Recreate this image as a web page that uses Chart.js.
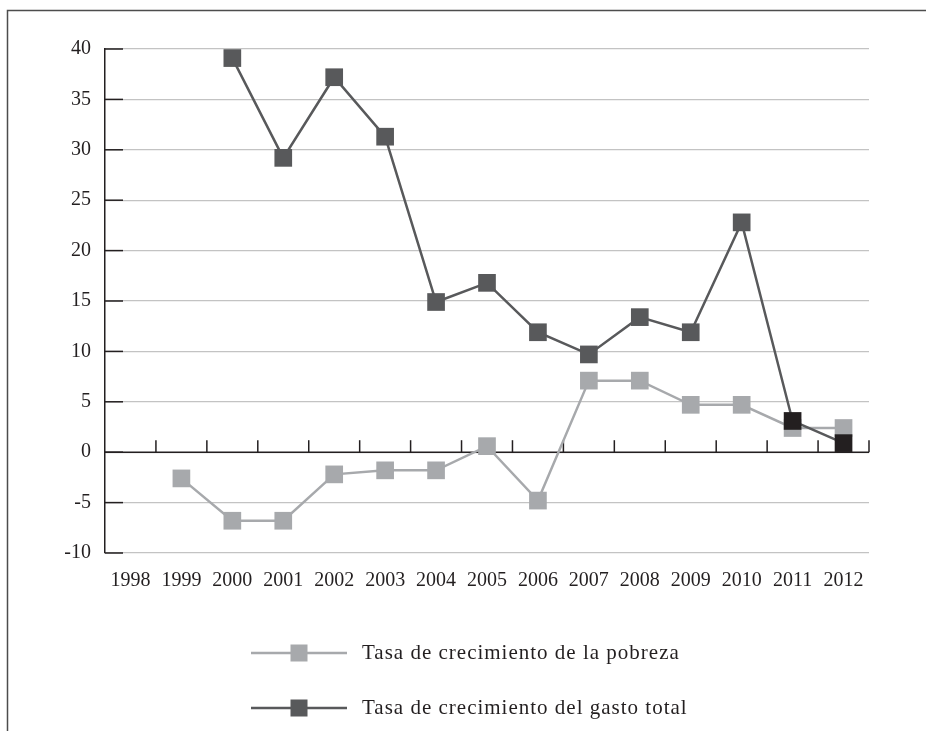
<!DOCTYPE html>
<html>
<head>
<meta charset="utf-8">
<script src="https://cdn.jsdelivr.net/npm/chart.js@4.4.0/dist/chart.umd.min.js"></script>
<style>
  html, body { margin: 0; padding: 0; background: #fff; }
</style>
</head>
<body>
<canvas id="chart" width="926" height="731"></canvas>
<script>
// Data
const years = ['1998', '1999', '2000', '2001', '2002', '2003', '2004', '2005',
               '2006', '2007', '2008', '2009', '2010', '2011', '2012'];
const povertyGrowth = [null, -2.6, -6.8, -6.8, -2.2, -1.8, -1.8, 0.6, -4.8, 7.1, 7.1, 4.7, 4.7, 2.4, 2.4];
const spendingGrowth = [null, null, 39.1, 29.2, 37.2, 31.3, 14.9, 16.8, 11.9, 9.7, 13.4, 11.9, 22.8, 3.1, 0.9];
const yTicks = [-10, -5, 0, 5, 10, 15, 20, 25, 30, 35, 40];
const seriesNames = ['Tasa de crecimiento de la pobreza', 'Tasa de crecimiento del gasto total'];

const LIGHT = '#a7a9ac';
const DARK = '#58595b';
const BLACK = '#231f20';
const FONT = '"Liberation Serif", "DejaVu Serif", serif';

// last two spending markers are printed in black
const spendingMarkers = spendingGrowth.map((v, i) => i >= 13 ? BLACK : DARK);

// Frame around the figure (left + top)
const framePlugin = {
  id: 'frame',
  beforeDraw(chart) {
    const ctx = chart.ctx;
    ctx.save();
    ctx.strokeStyle = '#4d4d4d';
    ctx.lineWidth = 1.5;
    ctx.beginPath();
    ctx.moveTo(7.5, chart.height);
    ctx.lineTo(7.5, 10.5);
    ctx.lineTo(chart.width, 10.5);
    ctx.stroke();
    ctx.restore();
  }
};

// Zero line with category ticks, and inward y ticks
const axisPlugin = {
  id: 'zeroAxis',
  beforeDatasetsDraw(chart) {
    const ctx = chart.ctx;
    const area = chart.chartArea;
    const x = chart.scales.x;
    const y = chart.scales.y;
    const y0 = y.getPixelForValue(0);
    const half = (x.getPixelForValue(1) - x.getPixelForValue(0)) / 2;

    ctx.save();
    ctx.strokeStyle = BLACK;
    ctx.lineWidth = 1.5;

    // inward y tick marks
    y.ticks.forEach(t => {
      const py = y.getPixelForValue(t.value);
      ctx.beginPath();
      ctx.moveTo(area.left, py);
      ctx.lineTo(area.left + 18, py);
      ctx.stroke();
    });

    // x axis at zero
    ctx.beginPath();
    ctx.moveTo(area.left, y0);
    ctx.lineTo(area.right, y0);
    ctx.stroke();

    for (let i = 0; i < years.length; i++) {
      const px = x.getPixelForValue(i) + half;
      ctx.beginPath();
      ctx.moveTo(px, y0);
      ctx.lineTo(px, y0 - 12);
      ctx.stroke();
    }
    ctx.restore();
  }
};

// Legend: line with a square marker, then the label
const legendPlugin = {
  id: 'lineLegend',
  afterDraw(chart) {
    const ctx = chart.ctx;
    const rows = [
      { label: seriesNames[0], line: LIGHT, marker: LIGHT, y: 653 },
      { label: seriesNames[1], line: DARK, marker: DARK, y: 708 }
    ];
    ctx.save();
    rows.forEach(r => {
      ctx.strokeStyle = r.line;
      ctx.lineWidth = 2.5;
      ctx.beginPath();
      ctx.moveTo(251, r.y);
      ctx.lineTo(347, r.y);
      ctx.stroke();
      ctx.fillStyle = r.marker;
      ctx.fillRect(299 - 8.5, r.y - 8.5, 17, 17);
      ctx.fillStyle = BLACK;
      ctx.font = '21px ' + FONT;
      ctx.letterSpacing = '1px';
      ctx.textBaseline = 'middle';
      ctx.textAlign = 'left';
      ctx.fillText(r.label, 362, r.y);
    });
    ctx.restore();
  }
};

const ctx = document.getElementById('chart').getContext('2d');
new Chart(ctx, {
  type: 'line',
  data: {
    labels: years,
    datasets: [
      {
        label: seriesNames[1],
        data: spendingGrowth,
        borderColor: DARK,
        borderWidth: 2.5,
        pointStyle: 'rect',
        pointRadius: 12.5,
        pointBackgroundColor: spendingMarkers,
        pointBorderWidth: 0,
        tension: 0,
        clip: false
      },
      {
        label: seriesNames[0],
        data: povertyGrowth,
        borderColor: LIGHT,
        borderWidth: 2.5,
        pointStyle: 'rect',
        pointRadius: 12.5,
        pointBackgroundColor: LIGHT,
        pointBorderWidth: 0,
        tension: 0,
        clip: false
      }
    ]
  },
  options: {
    responsive: false,
    animation: false,
    events: [],
    layout: { padding: { left: 0, top: 49, right: 57, bottom: 0 } },
    plugins: {
      legend: { display: false },
      tooltip: { enabled: false }
    },
    scales: {
      x: {
        offset: true,
        grid: { display: false, drawTicks: false },
        border: { display: false },
        ticks: {
          color: BLACK,
          font: { family: FONT, size: 20 },
          padding: 16,
          maxRotation: 0,
          autoSkip: false
        },
        afterFit(scale) { scale.height = 178; }
      },
      y: {
        min: -10,
        max: 40,
        afterBuildTicks(scale) { scale.ticks = yTicks.map(v => ({ value: v })); },
        grid: { color: '#c3c3c3', lineWidth: 1.2, drawTicks: false },
        border: { color: BLACK, width: 1.5 },
        ticks: {
          color: BLACK,
          font: { family: FONT, size: 20 },
          padding: 14
        },
        afterFit(scale) { scale.width = 105; }
      }
    }
  },
  plugins: [framePlugin, axisPlugin, legendPlugin]
});
</script>
</body>
</html>
